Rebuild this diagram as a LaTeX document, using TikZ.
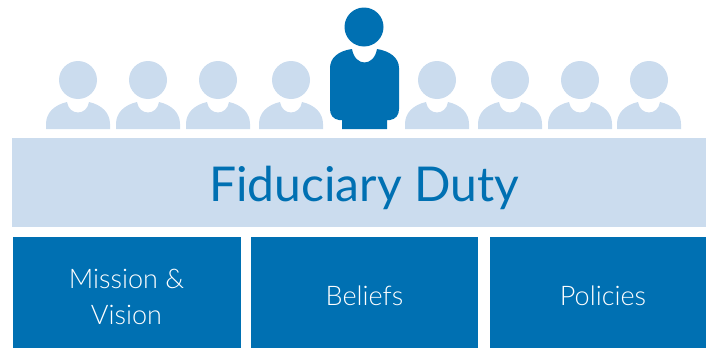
\documentclass[tikz,border=0pt]{standalone}
\usepackage{fontspec}
\setmainfont{Lato Light}
\newfontfamily\titlefont{Lato}
\usetikzlibrary{positioning}
\definecolor{fdDark}{RGB}{0, 112, 178}
\definecolor{fdPale}{RGB}{203, 220, 238}
\tikzset{
    base/.style={
        font=\rmfamily,
        align=center,
        inner sep=0pt
    },
    duty/.style={
        base,
        rectangle,
        fill=fdPale,
        minimum width=694pt,
        minimum height=89pt
    },
    pillar/.style={
        base,
        rectangle,
        fill=fdDark,
        minimum height=111pt
    },
    dutytext/.style={
        base,
        text=fdDark,
        font=\titlefont\fontsize{48}{48}\selectfont
    },
    pillartext/.style={
        base,
        text=white,
        font=\fontsize{27}{36}\selectfont
    },
    head/.style={
        circle,
        inner sep=0pt,
        minimum size=38pt
    }
}

\begin{document}
\begin{tikzpicture}[x=1pt, y=-1pt]
    \useasboundingbox (0,0) rectangle (706,348);

    % Seated people
    \foreach \px/\name in {78/a, 148/b, 218/c, 291/d, 437/e, 510/f, 580/g, 649/h} {
        \begin{scope}[shift={(\px,0)}]
            \node[head, fill=fdPale] (head\name) at (0,80) {};
            \fill[fdPale] (-32,129) -- (-32,124) .. controls (-32,113) and (-24,105) .. (-11,102)
                .. controls (-9,116) and (9,116) .. (11,102)
                .. controls (24,105) and (32,113) .. (32,124) -- (32,129) -- cycle;
        \end{scope}
    }

    % Chair
    \node[head, fill=fdDark, minimum size=39pt] (headChair) at (364,27) {};
    \fill[fdDark] (342,129) -- (342,120) -- (339,120) .. controls (333,119) and (330,115) .. (330,109)
        -- (330,68) .. controls (330,58) and (338,51) .. (352,49)
        .. controls (355,67) and (374,67) .. (377,49)
        .. controls (390,51) and (399,58) .. (399,68) -- (399,109)
        .. controls (399,115) and (396,119) .. (390,120) -- (387,120) -- (387,129) -- cycle;

    % Duty bar
    \node[duty] (bar) at (359,182.5) {};
    \node[dutytext] (dutyLabel) at (364,188) {Fiduciary Duty};

    % Pillars
    \node[pillar, minimum width=228pt] (mission) at (126.5,292.5) {};
    \node[pillar, minimum width=227pt] (beliefs) at (364.5,292.5) {};
    \node[pillar, minimum width=216pt] (policies) at (598,292.5) {};
    \node[pillartext] (missionLabel) at (126.5,297) {Mission \&\\Vision};
    \node[pillartext] (beliefsLabel) at (364.5,296) {Beliefs};
    \node[pillartext] (policiesLabel) at (603,296) {Policies};
\end{tikzpicture}
\end{document}
